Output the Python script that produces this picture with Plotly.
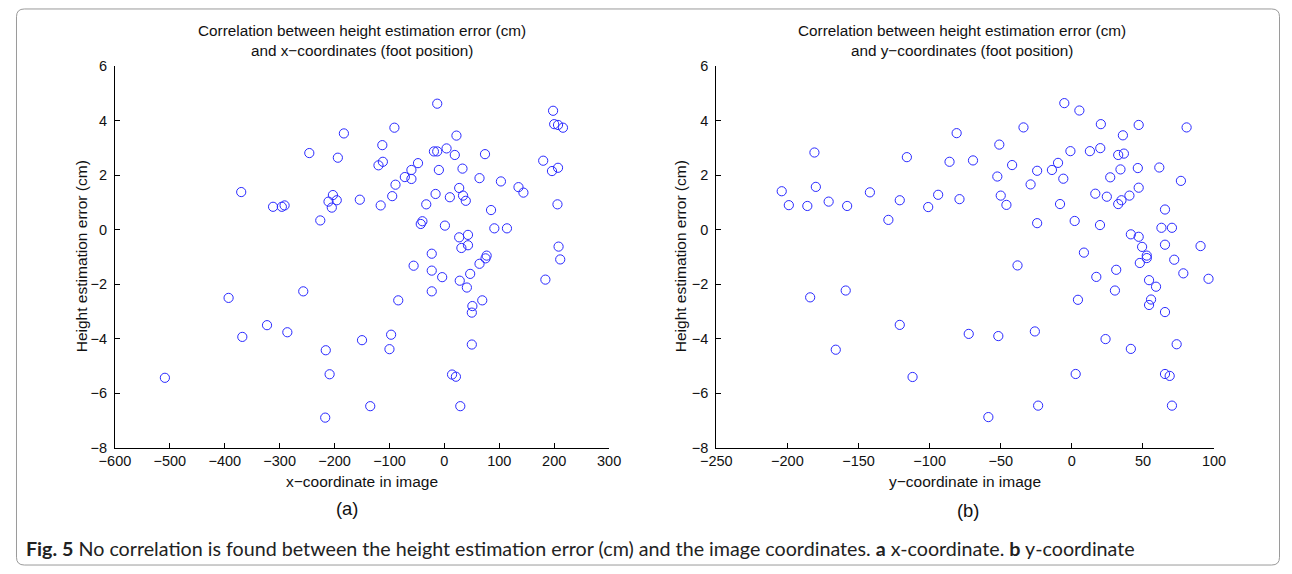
import plotly.graph_objects as go

# Left panel: x-coordinate (foot position) vs height estimation error (cm)
x_coord = [-509, -393, -370, -368, -323, -312, -296, -291, -286, -257, -246, -226, -216, -217,
           -209, -211, -205, -203, -196, -194, -183, -154, -150, -135, -120, -112, -116, -113,
           -100, -97, -91, -95, -89, -84, -72, -60, -60, -56, -48, -43, -40, -33, -23, -23, -23,
           -19, -16, -13, -13, -10, -4, 1, 4, 10, 14, 19, 21, 22, 27, 27, 28, 29, 31, 33, 34, 39,
           41, 43, 43, 47, 50, 50, 51, 64, 64, 69, 74, 75, 77, 85, 91, 103, 114, 135, 144, 180,
           184, 196, 198, 200, 206, 207, 207, 208, 211, 216]
err_x = [-5.43, -2.50, 1.38, -3.93, -3.50, 0.84, 0.84, 0.89, -3.76, -2.26, 2.81, 0.34, -4.42, -6.89,
         -5.30, 1.03, 0.81, 1.27, 1.08, 2.64, 3.53, 1.10, -4.05, -6.47, 2.36, 2.49, 0.89, 3.10,
         -4.38, -3.85, 3.74, 1.23, 1.65, -2.59, 1.93, 2.19, 1.86, -1.32, 2.44, 0.21, 0.31, 0.93,
         -0.88, -1.50, -2.26, 2.87, 1.31, 4.62, 2.87, 2.19, -1.74, 0.15, 2.98, 1.19, -5.31, 2.74,
         -5.39, 3.45, 1.53, -0.28, -1.87, -6.47, -0.67, 2.24, 1.25, 1.06, -2.12, -0.19, -0.57,
         -1.62, -3.04, -4.21, -2.80, 1.89, -1.25, -2.59, 2.77, -1.05, -0.95, 0.72, 0.05, 1.77,
         0.05, 1.56, 1.36, 2.53, -1.83, 2.15, 4.36, 3.87, 0.93, 2.27, 3.84, -0.62, -1.09, 3.74]

# Right panel: y-coordinate (foot position) vs height estimation error (cm)
y_coord = [-204, -199, -186, -181, -180, -171, -158, -142, -129, -121, -116, -101, -94, -86, -81,
           -79, -69.5, -51, -52.4, -42, -50, -46, -34, -29, -24.4, -24.4, -14, -9.7, -6, -8.3,
           -5.3, -1, 2, 5.3, 8.5, 12.7, 20, 20.4, 16.5, 19.8, 24.6, 27, 32.6, 36.6, 35.9, 34.2,
           32.6, 34.9, 40.5, 47, 46.4, 47, 41.5, 47, 49.4, 52.7, 52.7, 61.5, 65.5, 63, 70.4, 65.5,
           76.7, 80.7, 90.5, 72, -184, -159, -121, -166, -112, 47.8, -38.2, 17.2, 31.2, 30.3, 4.3,
           54.3, 59.2, 78.4, 96.1, 55.7, 54.3, 65.5, -72.5, -51.7, -26, 23.7, 41.5, 73.7, 2.7,
           65.5, 68.8, -23.7, 70.4, -58.7]
err_y = [1.41, 0.90, 0.87, 2.83, 1.57, 1.03, 0.87, 1.37, 0.36, 1.08, 2.66, 0.83, 1.28, 2.49, 3.54,
         1.12, 2.54, 3.12, 1.95, 2.37, 1.25, 0.91, 3.75, 1.66, 2.16, 0.24, 2.19, 2.45, 1.87, 0.94,
         4.64, 2.88, 0.32, 4.37, -0.84, 2.88, 2.99, 3.87, 1.32, 0.17, 1.21, 1.92, 2.74, 2.79, 3.46,
         2.21, 0.94, 1.08, 1.25, 3.84, 2.26, 1.54, -0.17, -0.26, -0.63, -0.95, -1.04, 2.28, 0.74,
         0.07, 0.07, -0.55, 1.79, 3.75, -0.60, -1.10, -2.48, -2.23, -3.49, -4.40, -5.40, -1.22,
         -1.31, -1.73, -1.47, -2.23, -2.57, -1.85, -2.09, -1.60, -1.80, -2.56, -2.76, -3.02,
         -3.82, -3.90, -3.73, -4.01, -4.37, -4.20, -5.29, -5.29, -5.36, -6.45, -6.45, -6.87]

W, H = 1292, 574
FONT = "Liberation Sans, Arial, sans-serif"

# target positions are given in picture pixels; map them onto the page
def px_x(s):
    return ((s - 14.2) / 0.98) / W

def px_y(s):
    return 1 - ((s - 7.2) / 0.973) / H

fig = go.Figure()
marker = dict(symbol="circle-open", size=9.2, color="#2a2aff", line=dict(width=1, color="#2a2aff"))
fig.add_trace(go.Scatter(x=x_coord, y=err_x, mode="markers", marker=marker, xaxis="x", yaxis="y",
                         showlegend=False, hoverinfo="x+y"))
fig.add_trace(go.Scatter(x=y_coord, y=err_y, mode="markers", marker=marker, xaxis="x2", yaxis="y2",
                         showlegend=False, hoverinfo="x+y"))

ydom = [px_y(447.5), px_y(65.3)]
axis_common = dict(showgrid=False, zeroline=False, showline=True, linecolor="black", linewidth=1,
                   ticks="inside", ticklen=5, tickcolor="black", tickwidth=1,
                   tickfont=dict(family=FONT, size=14.5, color="#111"), mirror=False)

fig.update_layout(
    width=W, height=H,
    margin=dict(l=0, r=0, t=0, b=0),
    paper_bgcolor="white", plot_bgcolor="white",
    xaxis=dict(domain=[px_x(113.3), px_x(608.3)], range=[-600, 300], dtick=100, tick0=0,
               anchor="y", **axis_common),
    yaxis=dict(domain=ydom, range=[-8, 6], dtick=2, tick0=0, anchor="x", ticklabelstandoff=4,
               **axis_common),
    xaxis2=dict(domain=[px_x(715.7), px_x(1214.3)], range=[-250, 100], dtick=50, tick0=0,
                anchor="y2", **axis_common),
    yaxis2=dict(domain=ydom, range=[-8, 6], dtick=2, tick0=0, anchor="x2", ticklabelstandoff=4,
                **axis_common),
)

ann = []
def add_text(x, y, text, size=13, angle=0, xanchor="center", family=FONT, color="#111"):
    ann.append(dict(x=px_x(x), y=px_y(y), xref="paper", yref="paper", text=text, showarrow=False,
                    xanchor=xanchor, yanchor="middle", textangle=angle,
                    font=dict(family=family, size=size, color=color)))

add_text(361, 40, "Correlation between height estimation error (cm)<br>and x\u2212coordinates (foot position)", size=15.3)
add_text(962, 40, "Correlation between height estimation error (cm)<br>and y\u2212coordinates (foot position)", size=15.3)
add_text(80, 256, "Height estimation error (cm)", size=15.5, angle=-90)
add_text(680, 256, "Height estimation error (cm)", size=15.5, angle=-90)
add_text(361, 481, "x\u2212coordinate in image", size=15.5)
add_text(965, 481, "y\u2212coordinate in image", size=15.5)
add_text(346, 508, "(a)", size=18.4)
add_text(968, 510, "(b)", size=18.4)
add_text(22, 548, "<b>Fig. 5</b> No correlation is found between the height estimation error (cm) and the image "
         "coordinates. <b>a</b> x-coordinate. <b>b</b> y-coordinate", size=19.7, xanchor="left",
         family="Lato, sans-serif", color="#222")
fig.update_layout(annotations=ann)

# rounded border around the figure, in page pixels -> paper coords
bx0, by0, bx1, by1, r = 0.5, 1.0, 1291.5, 573.0, 8

def pp(a, b):
    return f"{a / W:.5f},{1 - b / H:.5f}"

path = (f"M {pp(bx0 + r, by0)} L {pp(bx1 - r, by0)} Q {pp(bx1, by0)} {pp(bx1, by0 + r)} "
        f"L {pp(bx1, by1 - r)} Q {pp(bx1, by1)} {pp(bx1 - r, by1)} L {pp(bx0 + r, by1)} "
        f"Q {pp(bx0, by1)} {pp(bx0, by1 - r)} L {pp(bx0, by0 + r)} Q {pp(bx0, by0)} {pp(bx0 + r, by0)} Z")
fig.add_shape(type="path", path=path, xref="paper", yref="paper", line=dict(color="#9a9a9a", width=1))

fig.write_html("out.html", config={"displayModeBar": False},
               post_script="document.body.style.margin='0';")
